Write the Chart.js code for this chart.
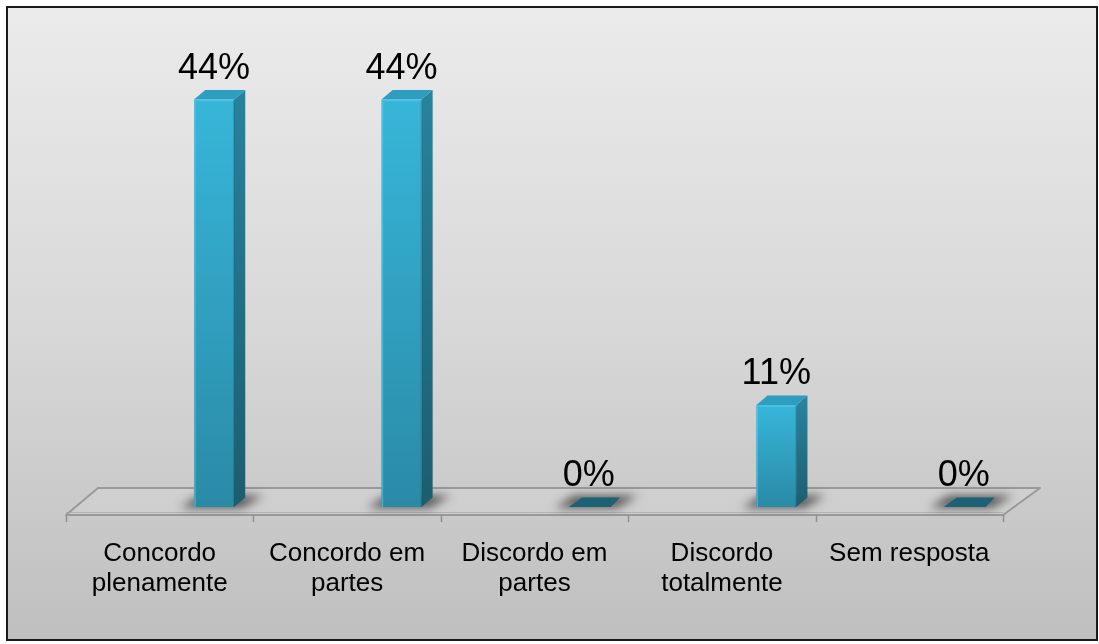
<!DOCTYPE html>
<html>
<head>
<meta charset="utf-8">
<script src="https://cdn.jsdelivr.net/npm/chart.js@4/dist/chart.umd.min.js"></script>
<style>
  html, body { margin: 0; padding: 0; background: #fff; }
  canvas { display: block; }
</style>
</head>
<body>
<canvas id="chart" width="1099" height="644"></canvas>
<script>
// Survey answers and their share of respondents
const categories = [
  ['Concordo', 'plenamente'],
  ['Concordo em', 'partes'],
  ['Discordo em', 'partes'],
  ['Discordo', 'totalmente'],
  ['Sem resposta']
];
const percentages = [44, 44, 0, 11, 0];
const valueLabels = ['44%', '44%', '0%', '11%', '0%'];
const axisMax = 50;

const FONT = '"Liberation Sans", Arial, sans-serif';

// Framed panel with a soft vertical grey gradient
const panelBackground = {
  id: 'panelBackground',
  beforeDraw(chart) {
    const ctx = chart.ctx;
    const W = chart.width, H = chart.height;
    ctx.save();
    ctx.fillStyle = '#ffffff';
    ctx.fillRect(0, 0, W, H);
    const g = ctx.createLinearGradient(0, 8, 0, H - 4);
    g.addColorStop(0, '#ebebeb');
    g.addColorStop(0.5, '#d8d8d8');
    g.addColorStop(1, '#bfbfbf');
    ctx.fillStyle = g;
    ctx.fillRect(7, 7, W - 9, H - 11);
    ctx.strokeStyle = '#1a1a1a';
    ctx.lineWidth = 2;
    ctx.strokeRect(7, 7, W - 9, H - 11);
    ctx.restore();
  }
};

// Perspective floor, base shadows, 3D columns and value labels
const columns3d = {
  id: 'columns3d',
  beforeDatasetsDraw(chart) {
    const ctx = chart.ctx;
    const area = chart.chartArea;
    const xs = chart.scales.x;
    const n = xs.ticks.length;
    const cw = xs.width / n;

    const frontY = area.bottom + 8;
    const backY = area.bottom - 19;
    const backShift = 34;

    ctx.save();
    // floor plane
    ctx.beginPath();
    ctx.moveTo(xs.left, frontY);
    ctx.lineTo(xs.left + backShift - 2, backY);
    ctx.lineTo(xs.right + backShift + 3, backY);
    ctx.lineTo(xs.right, frontY);
    ctx.closePath();
    ctx.fillStyle = 'rgba(255,255,255,0.10)';
    ctx.fill();
    ctx.strokeStyle = '#9a9a9a';
    ctx.lineWidth = 2;
    ctx.lineJoin = 'round';
    ctx.stroke();
    ctx.beginPath();
    ctx.moveTo(xs.left, frontY - 2.5);
    ctx.lineTo(xs.right, frontY - 2.5);
    ctx.strokeStyle = 'rgba(160,160,160,0.6)';
    ctx.lineWidth = 1;
    ctx.stroke();

    // category tick marks under the front edge
    ctx.strokeStyle = '#8f8f8f';
    ctx.lineWidth = 1.5;
    for (let i = 0; i <= n; i++) {
      const tx = Math.round(xs.left + i * cw) + 0.5;
      ctx.beginPath();
      ctx.moveTo(tx, frontY);
      ctx.lineTo(tx, frontY + 7);
      ctx.stroke();
    }

    const meta = chart.getDatasetMeta(0);
    const shift = cw * 0.29;
    const bars = meta.data.map((el) => {
      const p = el.getProps(['x', 'y', 'base', 'width'], true);
      const w = p.width;
      return {
        left: p.x + shift - w / 2,
        right: p.x + shift + w / 2,
        top: p.y,
        base: p.base,
        dx: w * 0.28,
        dy: -w * 0.24
      };
    });

    // soft shadows on the floor
    bars.forEach((b) => {
      ctx.save();
      ctx.filter = 'blur(5px)';
      ctx.fillStyle = 'rgba(45,45,45,0.75)';
      ctx.beginPath();
      ctx.moveTo(b.left - 14, b.base + 1);
      ctx.lineTo(b.right + 8, b.base + 1);
      ctx.lineTo(b.right + b.dx + 18, b.base + b.dy - 2);
      ctx.lineTo(b.left + b.dx - 6, b.base + b.dy - 2);
      ctx.closePath();
      ctx.fill();
      ctx.restore();
    });

    // columns
    bars.forEach((b) => {
      const h = b.base - b.top;
      if (h < 1) {
        // zero value: only a flat cap on the floor
        ctx.beginPath();
        ctx.moveTo(b.left, b.base);
        ctx.lineTo(b.right + 2, b.base);
        ctx.lineTo(b.right + b.dx, b.base + b.dy);
        ctx.lineTo(b.left + b.dx + 2, b.base + b.dy);
        ctx.closePath();
        ctx.fillStyle = '#1c6175';
        ctx.fill();
        return;
      }
      // side face
      const gs = ctx.createLinearGradient(0, b.top, 0, b.base);
      gs.addColorStop(0, '#27829c');
      gs.addColorStop(1, '#1c5d6f');
      ctx.beginPath();
      ctx.moveTo(b.right, b.top);
      ctx.lineTo(b.right + b.dx, b.top + b.dy);
      ctx.lineTo(b.right + b.dx, b.base + b.dy);
      ctx.lineTo(b.right, b.base);
      ctx.closePath();
      ctx.fillStyle = gs;
      ctx.fill();
      // top face
      ctx.beginPath();
      ctx.moveTo(b.left, b.top);
      ctx.lineTo(b.left + b.dx, b.top + b.dy);
      ctx.lineTo(b.right + b.dx, b.top + b.dy);
      ctx.lineTo(b.right, b.top);
      ctx.closePath();
      ctx.fillStyle = '#2d9ebf';
      ctx.fill();
      // front face
      const gf = ctx.createLinearGradient(0, b.top, 0, b.base);
      gf.addColorStop(0, '#37b6da');
      gf.addColorStop(1, '#2a8aa6');
      ctx.fillStyle = gf;
      ctx.fillRect(b.left, b.top, b.right - b.left, h);
      // bevel highlights
      ctx.strokeStyle = 'rgba(90,205,235,0.55)';
      ctx.lineWidth = 1.5;
      ctx.beginPath();
      ctx.moveTo(b.left + 1, b.base);
      ctx.lineTo(b.left + 1, b.top + 1);
      ctx.lineTo(b.right - 1, b.top + 1);
      ctx.stroke();
      ctx.strokeStyle = 'rgba(20,80,100,0.35)';
      ctx.beginPath();
      ctx.moveTo(b.right, b.top + 1);
      ctx.lineTo(b.right, b.base);
      ctx.stroke();
    });

    // value labels above each column
    ctx.fillStyle = '#000000';
    ctx.font = '36px ' + FONT;
    ctx.textAlign = 'center';
    ctx.textBaseline = 'alphabetic';
    bars.forEach((b, i) => {
      ctx.fillText(valueLabels[i], (b.left + b.right) / 2, b.top - 21);
    });
    ctx.restore();
    return false;
  }
};

new Chart(document.getElementById('chart'), {
  type: 'bar',
  data: {
    labels: categories,
    datasets: [{
      data: percentages,
      backgroundColor: '#31a9cc',
      barPercentage: 0.2135,
      categoryPercentage: 1
    }]
  },
  options: {
    responsive: false,
    animation: false,
    devicePixelRatio: 1,
    layout: { padding: { left: 66, right: 96, top: 44, bottom: 0 } },
    plugins: {
      legend: { display: false },
      tooltip: { enabled: false }
    },
    scales: {
      x: {
        offset: true,
        grid: { display: false },
        border: { display: false },
        ticks: {
          color: '#000000',
          font: { family: FONT, size: 26, lineHeight: 1.15 },
          padding: 24,
          maxRotation: 0,
          autoSkip: false
        },
        afterFit(scale) { scale.height = 137; }
      },
      y: {
        display: false,
        min: 0,
        max: axisMax
      }
    }
  },
  plugins: [panelBackground, columns3d]
});
</script>
</body>
</html>
